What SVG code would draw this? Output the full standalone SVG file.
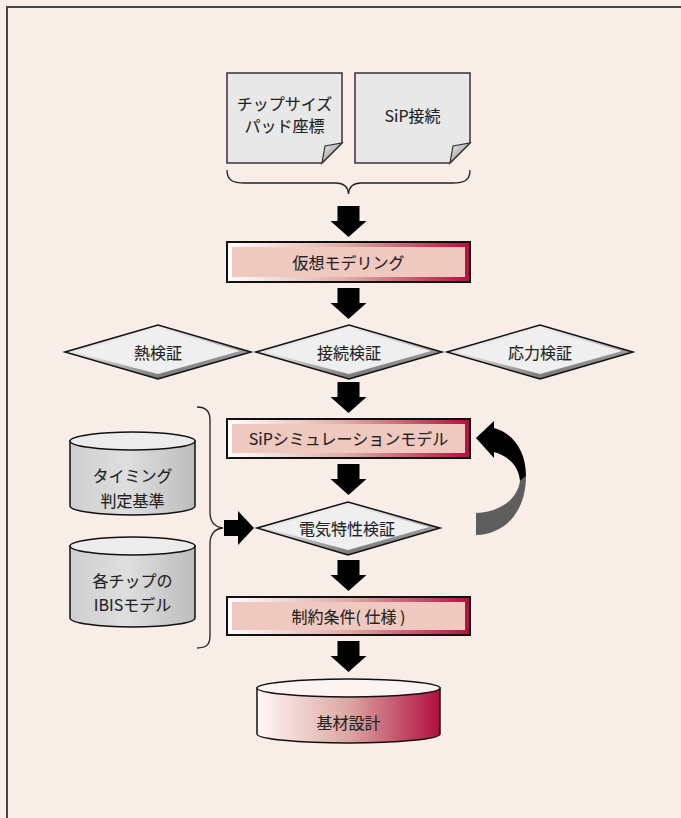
<svg xmlns="http://www.w3.org/2000/svg" width="681" height="818" viewBox="0 0 681 818">
<style>
text{font-family:"Noto Sans CJK JP","Noto Sans",sans-serif;font-size:16px;fill:#222;stroke:#222;stroke-width:0.12;text-anchor:middle;dominant-baseline:central}
.doc{fill:#e8e8e8;stroke:#333;stroke-width:1.5}
.fold{fill:url(#gFold);stroke:#333;stroke-width:1.2}
.brace{fill:none;stroke:#222;stroke-width:1.3}
.boxo{fill:url(#gBox);stroke:#111;stroke-width:2}
.boxi{fill:#efc9c0}
.dia{fill:url(#gDia);stroke:#111;stroke-width:1.5}
.diai{fill:#efefef}
.cylg{fill:url(#gCyl);stroke:#111;stroke-width:1.5}
.cylt{fill:#ececec;stroke:#111;stroke-width:1.5}
.cylr{fill:url(#gRed);stroke:#111;stroke-width:1.5}
.cylrt{fill:#fdf3f1;stroke:#111;stroke-width:1.5}
.arr{fill:#000}
</style>
<defs>
<linearGradient id="gBox" x1="0" y1="0" x2="1" y2="0">
<stop offset="0" stop-color="#ffffff"/><stop offset="0.5" stop-color="#deaaa4"/><stop offset="1" stop-color="#b3103e"/>
</linearGradient>
<linearGradient id="gRed" x1="0" y1="0" x2="1" y2="0">
<stop offset="0" stop-color="#fff8f6"/><stop offset="0.5" stop-color="#dca7a2"/><stop offset="1" stop-color="#b10f40"/>
</linearGradient>
<linearGradient id="gDia" x1="0" y1="0" x2="0.6" y2="1">
<stop offset="0" stop-color="#ffffff"/><stop offset="0.5" stop-color="#d8d8d8"/><stop offset="1" stop-color="#6a6a6a"/>
</linearGradient>
<linearGradient id="gCyl" x1="0" y1="0" x2="1" y2="0">
<stop offset="0" stop-color="#cfcfcf"/><stop offset="0.45" stop-color="#dedede"/><stop offset="1" stop-color="#bdbdbd"/>
</linearGradient>
<linearGradient id="gFold" x1="0" y1="0" x2="1" y2="1">
<stop offset="0" stop-color="#f2f2f2"/><stop offset="1" stop-color="#7a7a7a"/>
</linearGradient>
<path id="dn" d="M-11,0 H11 V15 H18 L0,31 L-18,15 H-11 Z"/>
</defs>
<rect x="0" y="0" width="681" height="818" fill="#f9ede8"/>
<rect x="7" y="7" width="700" height="900" fill="none" stroke="#444" stroke-width="2"/>

<g id="doc-chip">
<path class="doc" d="M227,73 H342 V143 L322,163 H227 Z"/>
<path class="fold" d="M342,143 L322,163 L325,146 Z"/>
<text x="284.5" y="103">チップサイズ</text>
<text x="284.5" y="125">パッド座標</text>
</g>
<g id="doc-sip">
<path class="doc" d="M355,73 H470 V143 L450,163 H355 Z"/>
<path class="fold" d="M470,143 L450,163 L453,146 Z"/>
<text x="412.5" y="115">SiP接続</text>
</g>

<g id="connectors">
<path class="brace" d="M227,170 C227,180 232,183 245,183 H336 C344,183 348,187 348.5,194 C349,187 353,183 361,183 H452 C465,183 470,180 470,170"/>
<path class="brace" d="M197,407 C206,407 210,411 210,420 V512 C210,522 214,527 223,528 C214,529 210,534 210,544 V636 C210,645 206,648 197,648"/>
<use href="#dn" class="arr" x="348.5" y="206"/>
<use href="#dn" class="arr" x="348.5" y="288"/>
<use href="#dn" class="arr" x="348.5" y="382"/>
<use href="#dn" class="arr" x="348.5" y="464"/>
<use href="#dn" class="arr" x="348.5" y="560"/>
<use href="#dn" class="arr" x="348.5" y="641"/>
<path class="arr" d="M224,520 H238 V511 L254,528 L238,545 V536 H224 Z"/>
<path fill="#5e5e5e" d="M526,476 C526,512 505,534 476,535 L476,513 C500,512 517,500 520,481 Z"/>
<path fill="#000" d="M476,438 L494,421 L494,428 C513,433 526,451 526,476 L520,481 C519,467 509,456 494,452 L494,458 Z"/>
</g>

<g id="box-modeling">
<rect class="boxo" x="227" y="242" width="243" height="40"/>
<rect class="boxi" x="232" y="247" width="233" height="30"/>
<text x="348.5" y="262">仮想モデリング</text>
</g>

<g id="dia-heat">
<polygon class="dia" points="65,352 158,325 251,352 158,379"/>
<polygon class="diai" points="74,352 158,328 240,351 158,374"/>
<text x="158" y="352">熱検証</text>
</g>
<g id="dia-conn">
<polygon class="dia" points="256,352 349,325 442,352 349,379"/>
<polygon class="diai" points="265,352 349,328 431,351 349,374"/>
<text x="349" y="352">接続検証</text>
</g>
<g id="dia-stress">
<polygon class="dia" points="447,352 540,325 633,352 540,379"/>
<polygon class="diai" points="456,352 540,328 622,351 540,374"/>
<text x="540" y="352">応力検証</text>
</g>

<g id="box-sim">
<rect class="boxo" x="227" y="419" width="243" height="39"/>
<rect class="boxi" x="232" y="424" width="233" height="29"/>
<text x="348.5" y="438">SiPシミュレーションモデル</text>
</g>

<g id="dia-elec">
<polygon class="dia" points="257,528 348,502 440,528 348,555"/>
<polygon class="diai" points="266,528 348,505 429,527 348,550"/>
<text x="347" y="528">電気特性検証</text>
</g>

<g id="box-constraint">
<rect class="boxo" x="227" y="597" width="243" height="38"/>
<rect class="boxi" x="232" y="602" width="233" height="28"/>
<text x="348.5" y="616">制約条件( 仕様 )</text>
</g>

<g id="cyl-timing">
<path class="cylg" d="M70,441 V506 A62.5,9 0 0 0 195,506 V441 Z"/>
<ellipse class="cylt" cx="132.5" cy="441" rx="62.5" ry="9"/>
<text x="132.5" y="475">タイミング</text>
<text x="132.5" y="500">判定基準</text>
</g>

<g id="cyl-ibis">
<path class="cylg" d="M70,546 V618 A62.5,9 0 0 0 195,618 V546 Z"/>
<ellipse class="cylt" cx="132.5" cy="546" rx="62.5" ry="9"/>
<text x="132.5" y="580">各チップの</text>
<text x="132.5" y="604">IBISモデル</text>
</g>

<g id="cyl-substrate">
<path class="cylr" d="M257,688 V734 A91.5,9 0 0 0 440,734 V688 Z"/>
<ellipse class="cylrt" cx="348.5" cy="688" rx="91.5" ry="9"/>
<text x="348.5" y="722">基材設計</text>
</g>
</svg>
